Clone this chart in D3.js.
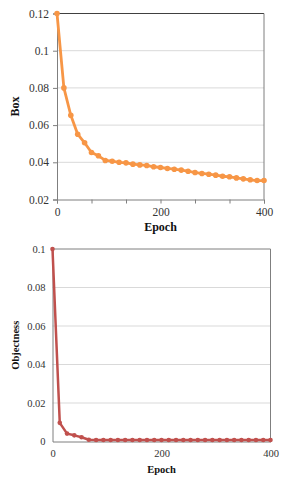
<!DOCTYPE html>
<html>
<head>
<meta charset="utf-8">
<script src="https://cdn.jsdelivr.net/npm/d3@7"></script>
<style>
  body { margin: 0; background: #fff; }
  svg { display: block; }
  svg text { font-family: "Liberation Serif", "Times New Roman", serif !important; }
</style>
</head>
<body>
<div id="app"></div>
<script>
// data: 31 points, every 400/30 epochs
const epochs = d3.range(31).map(i => i * 400 / 30);

const boxLoss = [0.12, 0.08, 0.0653, 0.0551, 0.0505, 0.0453, 0.0435, 0.041, 0.0406, 0.040,
  0.0397, 0.039, 0.0386, 0.0383, 0.0376, 0.0372, 0.0367, 0.0363, 0.0358, 0.0352,
  0.0345, 0.034, 0.0336, 0.0331, 0.0325, 0.0322, 0.0316, 0.0311, 0.0306, 0.0302, 0.0302];

const objLoss = [0.1, 0.0097, 0.0041, 0.0032, 0.0022, 0.0009, 0.0008, 0.0008, 0.0008, 0.0008,
  0.0008, 0.0008, 0.0008, 0.0008, 0.0008, 0.0008, 0.0008, 0.0008, 0.0008, 0.0008,
  0.0008, 0.0008, 0.0008, 0.0008, 0.0008, 0.0008, 0.0008, 0.0008, 0.0008, 0.0008, 0.0008];

const boxTicks = [0.02, 0.04, 0.06, 0.08, 0.1, 0.12];
const objTicks = [0, 0.02, 0.04, 0.06, 0.08, 0.1];
const xLabels = [0, 200, 400];

const W = 289, H = 480;
const svg = d3.select('#app').append('svg').attr('width', W).attr('height', H);

// 画一个面板
function panel(opt) {
  const x = d3.scaleLinear().domain([0, 400]).range([opt.left, opt.right]);
  const y = d3.scaleLinear().domain(opt.yDomain).range([opt.bottom, opt.top]);
  const g = svg.append('g');

  // 网格线
  g.selectAll('.grid').data(opt.yTicks.filter(t => t !== opt.yDomain[0] && t !== opt.yDomain[1]))
    .join('line')
    .attr('x1', opt.left).attr('x2', opt.right)
    .attr('y1', d => y(d)).attr('y2', d => y(d))
    .attr('stroke', '#d9d9d9').attr('stroke-width', 1);

  // 边框
  g.append('line').attr('x1', opt.left).attr('x2', opt.right)
    .attr('y1', opt.top).attr('y2', opt.top).attr('stroke', opt.topColor).attr('stroke-width', 1);
  g.append('line').attr('x1', opt.right).attr('x2', opt.right)
    .attr('y1', opt.top).attr('y2', opt.bottom).attr('stroke', '#7f7f7f').attr('stroke-width', 1);

  // y 轴
  const yAxis = d3.axisLeft(y).tickValues(opt.yTicks)
    .tickFormat(d => d3.format('~g')(d))
    .tickSize(opt.yTickSize).tickPadding(opt.yPad);
  const ya = g.append('g').attr('transform', `translate(${opt.left},0)`).call(yAxis)
    .attr('font-size', opt.tickFont);
  ya.select('.domain').attr('stroke', '#7f7f7f');
  ya.selectAll('.tick line').attr('stroke', '#7f7f7f');
  ya.selectAll('text').attr('fill', '#333');

  // x 轴
  const xAxis = d3.axisBottom(x).tickValues(d3.range(7).map(i => i * 400 / 6))
    .tickFormat(d => xLabels.includes(Math.round(d)) ? Math.round(d) : '')
    .tickSize(opt.xTickSize).tickPadding(opt.xPad);
  const xa = g.append('g').attr('transform', `translate(0,${opt.bottom})`).call(xAxis)
    .attr('font-size', opt.tickFont);
  xa.select('.domain').attr('stroke', '#7f7f7f');
  xa.selectAll('.tick line').attr('stroke', '#7f7f7f');
  xa.selectAll('text').attr('fill', '#333');

  // 折线
  const pts = epochs.map((e, i) => [e, opt.values[i]]);
  g.append('path').datum(pts)
    .attr('fill', 'none').attr('stroke', opt.color).attr('stroke-width', opt.lw)
    .attr('stroke-linejoin', 'round')
    .attr('d', d3.line().x(d => x(d[0])).y(d => y(d[1])));
  g.selectAll('.pt').data(pts).join('circle')
    .attr('cx', d => x(d[0])).attr('cy', d => y(d[1]))
    .attr('r', opt.r).attr('fill', opt.color);

  // 标题
  g.append('text').attr('x', (opt.left + opt.right) / 2).attr('y', opt.xTitleY)
    .attr('text-anchor', 'middle').attr('font-weight', 'bold')
    .attr('font-size', opt.titleFont).attr('fill', '#111').text('Epoch');
  g.append('text')
    .attr('transform', `translate(${opt.yTitleX},${(opt.top + opt.bottom) / 2}) rotate(-90)`)
    .attr('text-anchor', 'middle').attr('font-weight', 'bold')
    .attr('font-size', opt.titleFont).attr('fill', '#111').text(opt.yTitle);
}

panel({
  left: 57, right: 264, top: 13.5, bottom: 199.5,
  yDomain: [0.02, 0.12], yTicks: boxTicks, values: boxLoss,
  color: '#f79646', topColor: '#404040', r: 2.8, lw: 2.8,
  yTickSize: 4, yPad: 4, xTickSize: 4, xPad: 4,
  tickFont: '11.5px', titleFont: '12px',
  xTitleY: 231, yTitleX: 19, yTitle: 'Box'
});

panel({
  left: 52.5, right: 270.5, top: 249, bottom: 441.5,
  yDomain: [0, 0.1], yTicks: objTicks, values: objLoss,
  color: '#c0504d', topColor: '#7f7f7f', r: 2.3, lw: 2.5,
  yTickSize: 0, yPad: 7, xTickSize: 0, xPad: 8,
  tickFont: '10.5px', titleFont: '10.5px',
  xTitleY: 473, yTitleX: 19, yTitle: 'Objectness'
});
</script>
</body>
</html>
